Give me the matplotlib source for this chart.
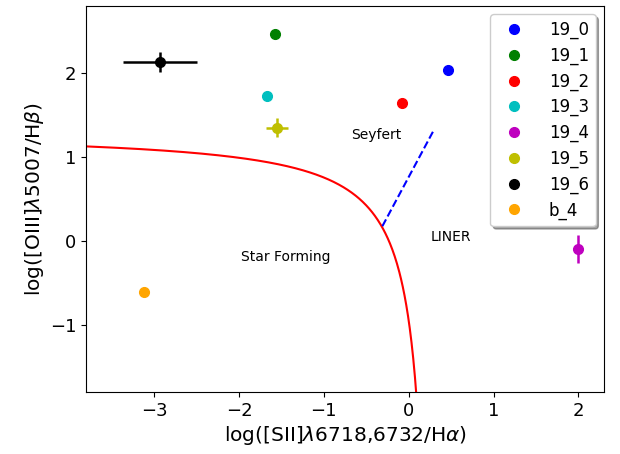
import numpy as np
import matplotlib
matplotlib.use("Agg")
import matplotlib.pyplot as plt

labels = ["19_0", "19_1", "19_2", "19_3", "19_4", "19_5", "19_6", "b_4"]
colors = ["b", "g", "r", "c", "m", "y", "k", "orange"]
x_sii = [0.46, -1.57, -0.08, -1.67, 2.00, -1.55, -2.93, -3.12]
y_oiii = [2.04, 2.46, 1.64, 1.73, -0.10, 1.35, 2.13, -0.61]
x_err = [0.0, 0.0, 0.0, 0.0, 0.0, 0.13, 0.44, 0.0]
y_err = [0.0, 0.0, 0.0, 0.0, 0.17, 0.11, 0.12, 0.0]

# Kewley et al. demarcation lines
kew_a, kew_b, kew_c = 0.72, 0.32, 1.30
sey_m, sey_c = 1.89, 0.76

fig = plt.figure(figsize=(6.2, 4.54), dpi=100)
ax = fig.add_axes([0.139, 0.137, 0.835, 0.850])

xs = np.linspace(-3.8, 0.3, 600)
ys = kew_a / (xs - kew_b) + kew_c
ax.plot(xs, ys, color="r", lw=1.5)

xd = np.linspace(-0.31, 0.3, 50)
ax.plot(xd, sey_m * xd + sey_c, "b--", lw=1.5)

for xi, yi, xe, ye, c, lab in zip(x_sii, y_oiii, x_err, y_err, colors, labels):
    if xe > 0 or ye > 0:
        ax.errorbar(xi, yi, xerr=xe if xe > 0 else None, yerr=ye if ye > 0 else None,
                    fmt="none", ecolor=c, elinewidth=1.8, capsize=0)
    ax.plot(xi, yi, "o", color=c, ms=7, label=lab)

ax.text(-0.38, 1.26, "Seyfert", fontsize=10, ha="center", va="center")
ax.text(0.5, 0.05, "LINER", fontsize=10, ha="center", va="center")
ax.text(-1.45, -0.19, "Star Forming", fontsize=10, ha="center", va="center")

ax.set_xlim(-3.8, 2.3)
ax.set_ylim(-1.8, 2.8)
ax.set_xticks([-3, -2, -1, 0, 1, 2])
ax.set_yticks([-1, 0, 1, 2])
ax.tick_params(labelsize=13)
ax.set_xlabel(r"log([SII]$\lambda$6718,6732/H$\alpha$)", fontsize=14.5, labelpad=3)
ax.set_ylabel(r"log([OIII]$\lambda$5007/H$\beta$)", fontsize=14.5, labelpad=3)
ax.legend(loc="upper right", shadow=True, fontsize=12, numpoints=1,
          labelspacing=0.45, handletextpad=1.1)

fig.savefig("out.png", dpi=100)
